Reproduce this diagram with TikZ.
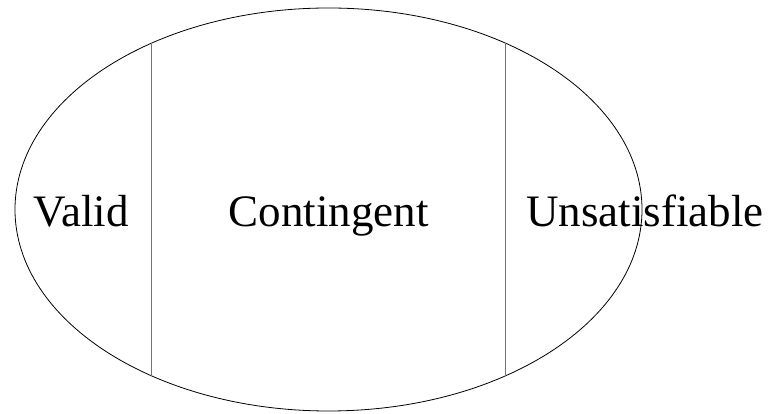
\documentclass[tikz,border=0pt]{standalone}
\usepackage{fontspec}
\setmainfont[Ligatures=NoCommon]{Liberation Serif}
\usetikzlibrary{shapes.geometric,positioning}

\begin{document}
\begin{tikzpicture}[x=1pt,y=1pt,
        region/.style={draw,ellipse,line width=0.8pt,inner sep=0pt,
                       minimum width=627pt,minimum height=403pt},
        divider/.style={line width=0.9pt,black!55},
        label/.style={anchor=base,inner sep=0pt,
                      font=\fontsize{45}{54}\selectfont}]
        \useasboundingbox (0,0) rectangle (770,414);
        \node[region] (all) at (328.5,204.5) {};
        \coordinate (vtop) at (151,370.6);
        \coordinate (vbot) at (151,38.4);
        \coordinate (utop) at (505,370.8);
        \coordinate (ubot) at (505,38.2);
        \draw[divider] (vtop) -- (vbot);
        \draw[divider] (utop) -- (ubot);
        \node[label] (valid) at (81,187) {Valid};
        \node[label] (cont)  at (328.5,187) {Contingent};
        \node[label] (unsat) at (645,187) {Unsatisfiable};
      \end{tikzpicture}
\end{document}
